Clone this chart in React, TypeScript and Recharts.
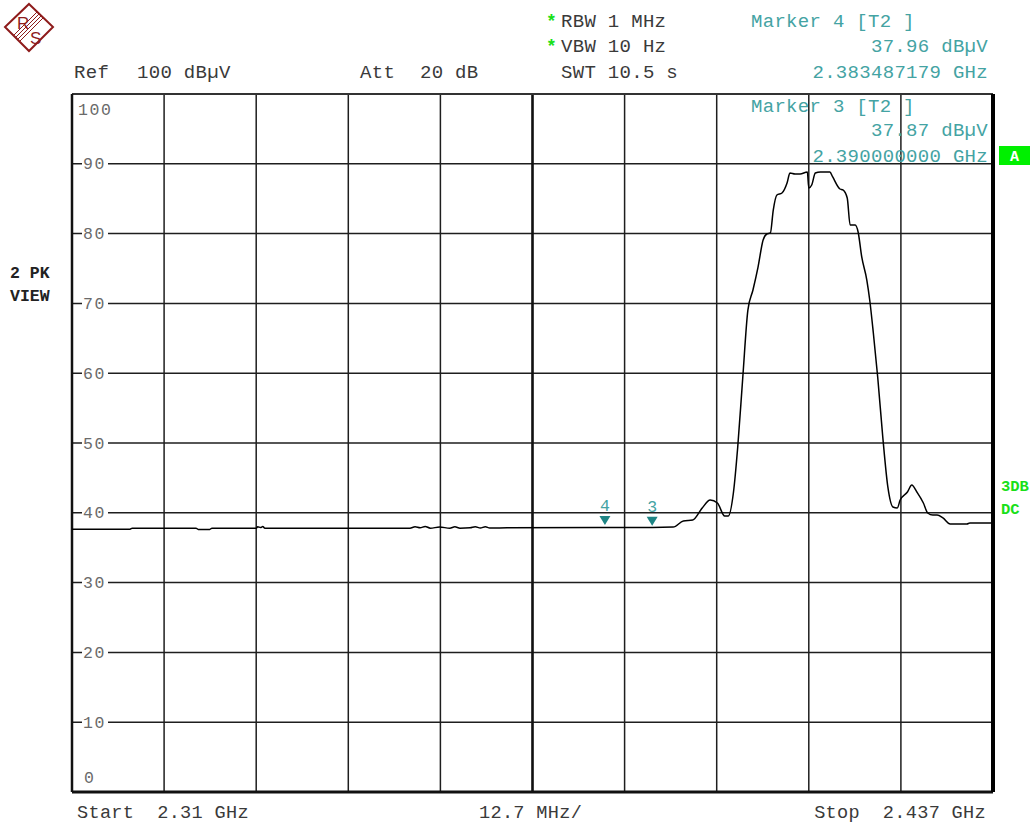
import React from 'react';
import {
  ComposedChart,
  Line,
  Scatter,
  XAxis,
  YAxis,
  CartesianGrid,
  ReferenceLine,
} from 'recharts';

// Span: 2.31 GHz .. 2.437 GHz, 12.7 MHz/div, Ref 100 dBµV
const START_GHZ = 2.31;
const STOP_GHZ = 2.437;
const freqTicks = [2.31, 2.3227, 2.3354, 2.3481, 2.3608, 2.3735, 2.3862, 2.3989, 2.4116, 2.4243, 2.437];
const levelTicks = [0, 10, 20, 30, 40, 50, 60, 70, 80, 90, 100];

// trace 2 (PK, view)
const traceFreq = [
  2.31, 2.318, 2.3183, 2.3271, 2.3274, 2.329, 2.3293, 2.3354, 2.3356, 2.336, 2.3363, 2.3366,
  2.3566, 2.3573, 2.358, 2.3587, 2.3594, 2.3607, 2.3621, 2.3628, 2.3635, 2.3649, 2.3656,
  2.3663, 2.367, 2.3676, 2.37, 2.3835, 2.39, 2.3929, 2.3943, 2.3956, 2.3969, 2.398, 2.399,
  2.4, 2.4005, 2.4012, 2.4018, 2.4025, 2.4032, 2.4039, 2.4046, 2.4053, 2.4058, 2.4063,
  2.4067, 2.4072, 2.4079, 2.4086, 2.409, 2.4097, 2.4104, 2.4114, 2.4116, 2.412, 2.4125,
  2.4132, 2.4145, 2.4149, 2.4159, 2.4163, 2.4169, 2.4173, 2.418, 2.4184, 2.4189, 2.4196,
  2.42, 2.4205, 2.4211, 2.4218, 2.4225, 2.4232, 2.4238, 2.4242, 2.4252, 2.4258, 2.4265,
  2.4274, 2.428, 2.4287, 2.4293, 2.4301, 2.4311, 2.4334, 2.4338, 2.437,
];
const traceLevel = [
  37.65, 37.65, 37.8, 37.8, 37.62, 37.62, 37.8, 37.8, 38.0, 37.9, 38.02, 37.8,
  37.8, 38.0, 37.85, 38.05, 37.8, 37.95, 37.8, 38.0, 37.8, 37.85, 38.0,
  37.82, 38.0, 37.82, 37.85, 37.9, 37.9, 37.95, 38.83, 38.97, 40.69, 41.83, 41.4,
  39.54, 39.54, 42.84, 49.43, 59.46, 69.05, 71.92, 75.21, 79.08, 79.94, 80.09,
  83.38, 85.53, 85.82, 87.25, 88.68, 88.54, 88.54, 88.83, 86.53, 86.96, 88.68,
  88.83, 88.83, 88.11, 86.39, 86.25, 85.1, 81.23, 81.23, 80.23, 76.65, 73.35,
  70.49, 65.76, 59.46, 50.86, 43.7, 40.83, 40.69, 41.83, 42.98, 43.98, 42.98,
  41.4, 39.97, 39.68, 39.68, 39.26, 38.4, 38.4, 38.54, 38.54,
];

const markerFreq = [2.383487179, 2.39];
const markerLevel = [37.96, 37.87];
const markerName = ['4', '3'];

const trace = traceFreq.map((f, i) => ({ f, v: traceLevel[i] }));
const markers = markerFreq.map((f, i) => ({ f, v: markerLevel[i], name: markerName[i] }));

const MONO = '"Liberation Mono", "DejaVu Sans Mono", monospace';
const TEAL = '#44a3a3';
const GREEN = '#19e019';
const INK = '#3a3a3a';

function LevelTick(props: any) {
  const { x, y, payload } = props;
  const v = payload.value;
  const label = String(v);
  const ty = v === 100 ? y + 15 : v === 0 ? y - 15 : y;
  return (
    <g>
      {v !== 100 && v !== 0 && (
        <rect x={x + 10} y={y - 3} width={label.length * 11.5 + 3} height={6} fill="#fff" />
      )}
      <text
        x={x + (v === 0 ? 12 : v === 100 ? 6 : 11)}
        y={ty}
        dy={5.5}
        textAnchor="start"
        fontFamily={MONO}
        fontSize={16.5}
        letterSpacing={1.6}
        fill="#6a6a6a"
      >
        {label}
      </text>
    </g>
  );
}

function MarkerShape(props: any) {
  const { cx, cy, payload } = props;
  return (
    <g>
      <path d={`M ${cx - 5.5} ${cy - 11} L ${cx + 5.5} ${cy - 11} L ${cx} ${cy - 2} Z`} fill="#1e8585" />
      <text x={cx} y={cy - 16} textAnchor="middle" fontFamily={MONO} fontSize={16.5} fill={TEAL}>
        {payload.name}
      </text>
    </g>
  );
}

function Header() {
  const t = (x: number, y: number, s: string, extra: any = {}) => (
    <text
      x={x}
      y={y}
      fontFamily={MONO}
      fontSize={19}
      letterSpacing={0.3}
      fill={INK}
      style={{ whiteSpace: 'pre' }}
      {...extra}
    >
      {s}
    </text>
  );
  return (
    <svg width={1032} height={825} style={{ position: 'absolute', left: 0, top: 0, pointerEvents: 'none' }}>
      {/* R&S logo */}
      <g stroke="#8e1b1b" fill="none" strokeWidth={2}>
        <path d="M 29 4 L 53 27 L 29 51 L 5 27 Z" />
        <path d="M 39 14 L 16 37" strokeWidth={1} />
        <path d="M 41 16 L 18 39" strokeWidth={1} />
        <path d="M 37 12 L 14 35" strokeWidth={1} />
        <path d="M 43 18 L 20 41" strokeWidth={1} />
      </g>
      <text x={17} y={29} fontFamily="Liberation Sans, sans-serif" fontSize={17} fill="#8e1b1b">R</text>
      <text x={30} y={44} fontFamily="Liberation Sans, sans-serif" fontSize={17} fill="#8e1b1b">S</text>

      {t(74, 78, 'Ref')}
      {t(137, 78, '100 dBµV')}
      {t(360, 78, 'Att')}
      {t(420, 78, '20 dB')}

      <text x={546} y={27} fontFamily={MONO} fontSize={18} fill={GREEN} fontWeight="bold">*</text>
      <text x={546} y={52} fontFamily={MONO} fontSize={18} fill={GREEN} fontWeight="bold">*</text>
      {t(561, 27, 'RBW 1 MHz')}
      {t(561, 52, 'VBW 10 Hz')}
      {t(561, 78, 'SWT 10.5 s')}

      {t(751, 27, 'Marker 4 [T2 ]', { fill: TEAL })}
      {t(988, 52, '37.96 dBµV', { fill: TEAL, textAnchor: 'end' })}
      {t(988, 78, '2.383487179 GHz', { fill: TEAL, textAnchor: 'end' })}
      {t(751, 112, 'Marker 3 [T2 ]', { fill: TEAL })}
      {t(988, 136, '37.87 dBµV', { fill: TEAL, textAnchor: 'end' })}
      {t(988, 162, '2.390000000 GHz', { fill: TEAL, textAnchor: 'end' })}

      <rect x={999} y={146} width={31} height={19} fill="#00f000" />
      <text x={1014.5} y={161} textAnchor="middle" fontFamily={MONO} fontSize={15} fontWeight="bold" fill="#fff">A</text>

      <text x={1001} y={491} fontFamily={MONO} fontSize={15.5} fontWeight="bold" fill={GREEN}>3DB</text>
      <text x={1001} y={514} fontFamily={MONO} fontSize={15.5} fontWeight="bold" fill={GREEN}>DC</text>

      <text x={10} y={278} fontFamily={MONO} fontSize={16.5} fontWeight="bold" fill="#222" style={{ whiteSpace: 'pre' }}>2 PK</text>
      <text x={10} y={301} fontFamily={MONO} fontSize={16.5} fontWeight="bold" fill="#222">VIEW</text>

      {t(77, 818, 'Start  2.31 GHz', { fontSize: 18.6 })}
      {t(479, 818, '12.7 MHz/', { fontSize: 18.6 })}
      {t(986, 818, 'Stop  2.437 GHz', { fontSize: 18.6, textAnchor: 'end' })}
    </svg>
  );
}

export default function App() {
  return (
    <div style={{ position: 'absolute', left: 0, top: 0, width: 1032, height: 825, background: '#fff' }}>
      <ComposedChart
        width={1032}
        height={825}
        margin={{ top: 94, right: 39, bottom: 33, left: 32 }}
      >
        <CartesianGrid stroke="#1e1e1e" strokeWidth={1.5} />
        <XAxis
          type="number"
          dataKey="f"
          domain={[START_GHZ, STOP_GHZ]}
          ticks={freqTicks}
          hide
          allowDataOverflow
        />
        <YAxis
          type="number"
          dataKey="v"
          domain={[0, 100]}
          ticks={levelTicks}
          width={40}
          axisLine={false}
          tickLine={false}
          tickSize={0}
          tickMargin={0}
          tick={LevelTick}
          interval={0}
          allowDataOverflow
        />
        <ReferenceLine x={2.3735} stroke="#111" strokeWidth={2.5} />
        <ReferenceLine y={100} stroke="#333" strokeWidth={2} />
        <ReferenceLine y={0} stroke="#111" strokeWidth={3} />
        <ReferenceLine x={START_GHZ} stroke="#111" strokeWidth={2.5} />
        <ReferenceLine x={STOP_GHZ} stroke="#000" strokeWidth={4} />
        <Line
          data={trace}
          dataKey="v"
          type="monotone"
          stroke="#000"
          strokeWidth={1.5}
          dot={false}
          isAnimationActive={false}
        />
        <Scatter data={markers} dataKey="v" shape={<MarkerShape />} isAnimationActive={false} />
      </ComposedChart>
      <Header />
    </div>
  );
}
